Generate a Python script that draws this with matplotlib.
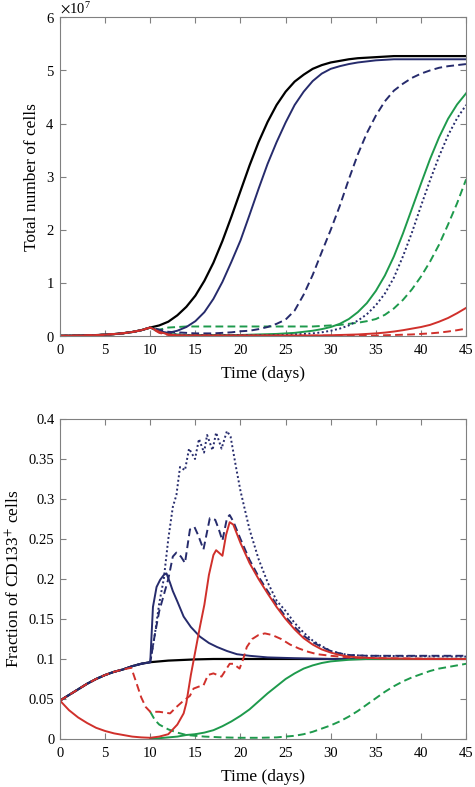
import numpy as np
import matplotlib.pyplot as plt
from matplotlib.ticker import ScalarFormatter, FuncFormatter

plt.rcParams['font.family'] = ['Liberation Serif', 'DejaVu Serif']
plt.rcParams['mathtext.fontset'] = 'stix'

# ---- top panel: total number of cells (units of 1e7) ----
days = np.arange(0, 46)

tot_black = [0.004, 0.006, 0.008, 0.012, 0.018, 0.026, 0.037, 0.053, 0.076, 0.11, 0.16,
             0.2, 0.27, 0.39, 0.55, 0.76, 1.04, 1.38, 1.79, 2.25, 2.73, 3.21, 3.65, 4.03,
             4.35, 4.6, 4.79, 4.92, 5.03, 5.1, 5.15, 5.18, 5.21, 5.23, 5.24, 5.25, 5.26,
             5.27, 5.27, 5.27, 5.27, 5.27, 5.27, 5.27, 5.27, 5.27]
tot_navy = [0.004, 0.006, 0.008, 0.012, 0.018, 0.026, 0.037, 0.053, 0.076, 0.11, 0.16,
            0.09, 0.06, 0.1, 0.17, 0.28, 0.45, 0.7, 1.02, 1.4, 1.8, 2.28, 2.77, 3.24,
            3.65, 4.02, 4.35, 4.6, 4.8, 4.94, 5.03, 5.08, 5.12, 5.15, 5.17, 5.19, 5.2,
            5.21, 5.21, 5.21, 5.21, 5.21, 5.21, 5.21, 5.21, 5.21]
tot_navy_dash = [0.004, 0.006, 0.008, 0.012, 0.018, 0.026, 0.037, 0.053, 0.076, 0.11, 0.16,
                 0.12, 0.08, 0.07, 0.06, 0.05, 0.05, 0.05, 0.06, 0.07, 0.09, 0.1, 0.13, 0.17,
                 0.23, 0.31, 0.48, 0.78, 1.15, 1.58, 2.0, 2.45, 2.95, 3.42, 3.82, 4.15, 4.42,
                 4.62, 4.75, 4.86, 4.94, 5.0, 5.05, 5.08, 5.1, 5.12]
tot_navy_dot = [0.004, 0.006, 0.008, 0.012, 0.018, 0.026, 0.037, 0.053, 0.076, 0.11, 0.16,
                0.08, 0.04, 0.03, 0.02, 0.02, 0.02, 0.02, 0.02, 0.02, 0.02, 0.02, 0.02, 0.02,
                0.02, 0.02, 0.03, 0.04, 0.05, 0.07, 0.1, 0.14, 0.2, 0.29, 0.41, 0.58, 0.8,
                1.1, 1.5, 1.95, 2.45, 2.93, 3.38, 3.78, 4.1, 4.35]
tot_green = [0.004, 0.006, 0.008, 0.012, 0.018, 0.026, 0.037, 0.053, 0.076, 0.11, 0.16,
             0.08, 0.04, 0.03, 0.02, 0.02, 0.02, 0.02, 0.02, 0.02, 0.02, 0.025, 0.03, 0.035,
             0.04, 0.05, 0.06, 0.08, 0.1, 0.13, 0.17, 0.23, 0.32, 0.45, 0.62, 0.85, 1.14,
             1.5, 1.93, 2.4, 2.87, 3.33, 3.74, 4.09, 4.36, 4.57]
tot_green_dash = [0.004, 0.006, 0.008, 0.012, 0.018, 0.026, 0.037, 0.053, 0.076, 0.11, 0.16,
                  0.12, 0.16, 0.17, 0.18, 0.18, 0.18, 0.18, 0.18, 0.18, 0.18, 0.18, 0.18, 0.18,
                  0.18, 0.18, 0.18, 0.18, 0.18, 0.19, 0.2, 0.21, 0.23, 0.25, 0.28, 0.32, 0.4,
                  0.52, 0.68, 0.88, 1.12, 1.4, 1.72, 2.1, 2.5, 2.95]
tot_red = [0.004, 0.006, 0.008, 0.012, 0.018, 0.026, 0.037, 0.053, 0.076, 0.11, 0.16,
           0.08, 0.03, 0.015, 0.01, 0.01, 0.01, 0.01, 0.01, 0.01, 0.01, 0.01, 0.01, 0.01,
           0.01, 0.01, 0.01, 0.01, 0.01, 0.012, 0.015, 0.02, 0.025, 0.03, 0.04, 0.05, 0.065,
           0.085, 0.11, 0.14, 0.17, 0.21, 0.27, 0.34, 0.43, 0.53]
tot_red_dash = [0.004, 0.006, 0.008, 0.012, 0.018, 0.026, 0.037, 0.053, 0.076, 0.11, 0.16,
                0.06, 0.02, 0.008, 0.008, 0.008, 0.008, 0.008, 0.008, 0.008, 0.008, 0.008, 0.008, 0.008,
                0.008, 0.008, 0.008, 0.008, 0.008, 0.008, 0.008, 0.008, 0.008, 0.008, 0.008, 0.008, 0.015,
                0.02, 0.025, 0.03, 0.04, 0.05, 0.065, 0.085, 0.11, 0.14]

# ---- bottom panel: fraction of CD133+ cells ----
t_early = [0, 1, 2, 3, 4, 5, 6, 7, 8, 9, 10]
f_early = [0.048, 0.055, 0.062, 0.069, 0.075, 0.08, 0.084, 0.087, 0.091, 0.094, 0.096]

t_black = t_early + [11, 12, 13, 14, 15, 17, 20, 25, 30, 35, 40, 45]
f_black = f_early + [0.097, 0.098, 0.0985, 0.099, 0.0995, 0.1, 0.1, 0.1, 0.1, 0.1, 0.1, 0.1]

t_navy = t_early + [10.3, 10.7, 11.1, 11.5, 11.8, 12.2, 12.5, 13, 13.7, 14.5, 15.5, 16.5,
                    17.4, 18.5, 19.6, 21, 23, 26, 30, 35, 45]
f_navy = f_early + [0.165, 0.19, 0.199, 0.205, 0.207, 0.195, 0.185, 0.172, 0.153, 0.14, 0.128,
                    0.12, 0.115, 0.11, 0.106, 0.104, 0.102, 0.101, 0.1, 0.1, 0.1]

t_navy_dot = t_early + [10.5, 11, 11.5, 12, 12.5, 12.9, 13.3, 13.85, 14.3, 14.96, 15.4, 15.96,
                        16.3, 16.9, 17.3, 17.9, 18.5, 18.9, 19.5, 20, 21, 22, 23, 24, 25, 26,
                        27, 28, 29, 30, 31, 32, 34, 45]
f_navy_dot = f_early + [0.13, 0.17, 0.2, 0.25, 0.29, 0.305, 0.34, 0.336, 0.363, 0.35, 0.375, 0.358,
                        0.38, 0.361, 0.383, 0.363, 0.385, 0.378, 0.34, 0.31, 0.262, 0.225, 0.196,
                        0.173, 0.16, 0.145, 0.133, 0.123, 0.116, 0.11, 0.107, 0.105, 0.104, 0.103]

t_navy_dash = t_early + [10.5, 11, 11.5, 12, 12.5, 12.9, 13.4, 13.85, 14.4, 14.9, 15.3, 15.9,
                         16.6, 17.2, 17.6, 18.0, 18.5, 18.8, 19.2, 20, 21, 22, 23, 24, 25, 26,
                         27, 28, 29, 30, 31, 32, 34, 45]
f_navy_dash = f_early + [0.13, 0.16, 0.18, 0.2, 0.228, 0.233, 0.228, 0.22, 0.262, 0.265, 0.255,
                         0.237, 0.276, 0.274, 0.262, 0.248, 0.276, 0.28, 0.272, 0.25, 0.224, 0.203,
                         0.185, 0.168, 0.153, 0.14, 0.129, 0.121, 0.115, 0.11, 0.107, 0.105,
                         0.104, 0.104]

t_red = [0, 1, 2, 3, 4, 5, 6, 7, 8, 9, 10, 11, 12, 13, 13.7, 14, 14.5, 15, 15.5, 16, 16.5,
         17, 17.3, 17.7, 18, 18.4, 18.8, 19.2, 20, 21, 22, 23, 24, 25, 26, 27, 28, 29, 30,
         31, 32, 33, 35, 40, 45]
f_red = [0.048, 0.036, 0.027, 0.02, 0.014, 0.01, 0.007, 0.005, 0.003, 0.002, 0.0015, 0.003,
         0.006, 0.018, 0.032, 0.045, 0.08, 0.11, 0.14, 0.168, 0.205, 0.23, 0.236, 0.232, 0.229,
         0.255, 0.271, 0.268, 0.245, 0.22, 0.2, 0.182, 0.165, 0.15, 0.137, 0.126, 0.118,
         0.112, 0.108, 0.105, 0.103, 0.102, 0.101, 0.1, 0.1]

t_red_dash = [0, 1, 2, 3, 4, 5, 6, 7, 7.9, 8.5, 9.0, 9.5, 10, 11, 12.2, 12.9, 13.5, 14.4,
              14.8, 15.5, 15.9, 16.4, 17, 17.9, 18.8, 19.2, 19.9, 20.3, 20.7, 21.3, 22, 22.7,
              23.5, 24.5, 25.5, 26.5, 27.5, 28.5, 30, 32, 35, 45]
f_red_dash = [0.048, 0.055, 0.062, 0.069, 0.075, 0.08, 0.084, 0.087, 0.089, 0.069, 0.052, 0.04,
              0.034, 0.034, 0.032, 0.04, 0.046, 0.054, 0.063, 0.066, 0.067, 0.08, 0.082, 0.078,
              0.094, 0.094, 0.088, 0.1, 0.115, 0.125, 0.13, 0.132, 0.13, 0.125, 0.118, 0.113,
              0.109, 0.106, 0.104, 0.102, 0.101, 0.1]

t_green = [10, 11, 12, 13, 14, 15, 16, 17, 18, 19, 20, 21, 22, 23, 24, 25, 26, 27, 28, 29,
           30, 31, 32, 34, 45]
f_green = [0, 0.001, 0.002, 0.003, 0.005, 0.006, 0.008, 0.011, 0.016, 0.022, 0.029, 0.037,
           0.047, 0.057, 0.066, 0.075, 0.082, 0.088, 0.092, 0.095, 0.097, 0.098, 0.099, 0.1, 0.1]

t_green_dash = [10, 10.5, 11, 12, 13, 14, 15, 16, 18, 20, 22, 24, 25, 26, 27, 28, 29, 30, 31,
                32, 33, 34, 35, 36, 37, 38, 39, 40, 41, 42, 43, 44, 45]
f_green_dash = [0.034, 0.024, 0.018, 0.012, 0.008, 0.005, 0.004, 0.003, 0.002, 0.0015, 0.0015,
                0.002, 0.003, 0.004, 0.006, 0.009, 0.013, 0.017, 0.022, 0.028, 0.035, 0.043,
                0.051, 0.059, 0.066, 0.072, 0.077, 0.081, 0.085, 0.088, 0.09, 0.092, 0.094]

navy = '#262b6c'
red = '#d0302b'
green = '#1e9a4c'
dash = (4, 2.2)
dot = (1, 1.3)
lw = 1.4

fig = plt.figure(figsize=(4.75, 7.87), dpi=100)
ax1 = fig.add_axes([0.1263, 0.573, 0.855, 0.405])
ax2 = fig.add_axes([0.1263, 0.061, 0.855, 0.4066])

# top panel
scale = 1e7
ax1.plot(days, np.array(tot_black) * scale, color='black', lw=1.6)
ax1.plot(days, np.array(tot_green) * scale, color=green, lw=lw)
ax1.plot(days, np.array(tot_green_dash) * scale, color=green, lw=lw, dashes=dash)
ax1.plot(days, np.array(tot_navy) * scale, color=navy, lw=lw)
ax1.plot(days, np.array(tot_navy_dot) * scale, color=navy, lw=lw, dashes=dot)
ax1.plot(days, np.array(tot_navy_dash) * scale, color=navy, lw=lw, dashes=dash)
ax1.plot(days, np.array(tot_red) * scale, color=red, lw=lw)
ax1.plot(days, np.array(tot_red_dash) * scale, color=red, lw=lw, dashes=dash)
ax1.set_ylim(0, 6e7)
ax1.set_yticks(np.arange(0, 7) * 1e7)
fmt = ScalarFormatter(useMathText=True)
fmt.set_powerlimits((0, 0))
ax1.yaxis.set_major_formatter(fmt)
ax1.set_ylabel('Total number of cells', fontsize=12.5)

# bottom panel
ax2.plot(t_black, f_black, color='black', lw=1.6)
ax2.plot(t_navy, f_navy, color=navy, lw=lw)
ax2.plot(t_navy_dot, f_navy_dot, color=navy, lw=lw, dashes=dot)
ax2.plot(t_navy_dash, f_navy_dash, color=navy, lw=lw, dashes=dash)
ax2.plot(t_green, f_green, color=green, lw=lw)
ax2.plot(t_green_dash, f_green_dash, color=green, lw=lw, dashes=dash)
ax2.plot(t_red, f_red, color=red, lw=lw)
ax2.plot(t_red_dash, f_red_dash, color=red, lw=lw, dashes=dash)
ax2.set_ylim(0, 0.4)
ax2.set_yticks(np.arange(0, 0.41, 0.05))
ax2.yaxis.set_major_formatter(FuncFormatter(lambda v, p: '%g' % round(v, 2)))
ax2.set_ylabel('Fraction of CD133$^{+}$ cells', fontsize=12.5)

for ax in (ax1, ax2):
    ax.set_xlim(0, 45)
    ax.set_xticks(np.arange(0, 46, 5))
    ax.set_xlabel('Time (days)', fontsize=12.5, labelpad=6)
    ax.tick_params(direction='in', top=True, right=True, length=4, width=0.8,
                   color='#808080', labelsize=10.5, pad=4)
    ax.tick_params(axis='x', pad=6)
    for s in ax.spines.values():
        s.set_color('#808080')
        s.set_linewidth(0.8)
ax1.yaxis.get_offset_text().set_fontsize(10.5)

fig.savefig('out.png', dpi=100)
